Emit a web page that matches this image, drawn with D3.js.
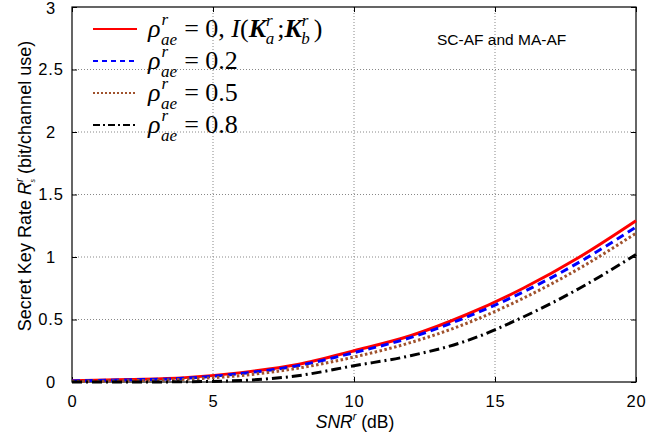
<!DOCTYPE html>
<html>
<head>
<meta charset="utf-8">
<script src="https://cdn.jsdelivr.net/npm/d3@7"></script>
<style>
  body { margin: 0; background: #fff; }
</style>
</head>
<body>
<svg id="chart" width="670" height="442"></svg>
<script>
// SNR in dB
var snr = [0, 2, 4, 6, 8, 10, 12, 14, 16, 18, 20];
var rho0 = [0.01, 0.02, 0.035, 0.075, 0.14, 0.25, 0.37, 0.54, 0.75, 1.0, 1.29];
var rho02 = [0.008, 0.017, 0.03, 0.068, 0.13, 0.235, 0.355, 0.52, 0.72, 0.96, 1.24];
var rho05 = [0.004, 0.01, 0.022, 0.052, 0.11, 0.2, 0.315, 0.47, 0.67, 0.91, 1.19];
var rho08 = [0, 0, 0.002, 0.012, 0.05, 0.13, 0.21, 0.33, 0.52, 0.75, 1.02];
var xTicks = [0, 5, 10, 15, 20];
var yTicks = [0, 0.5, 1, 1.5, 2, 2.5, 3];
var rhoLabels = ["0", "0.2", "0.5", "0.8"];

var SANS = "Arial, 'Liberation Sans', sans-serif";
var SERIF = "'Liberation Serif', 'Times New Roman', serif";

var series = [
  {v: rho0, color: "#ff0000", dash: null, legDash: null},
  {v: rho02, color: "#0000ff", dash: "8,5", legDash: "5,4"},
  {v: rho05, color: "#a0522d", dash: "2.5,2.5", legDash: "2,2"},
  {v: rho08, color: "#000000", dash: "10,4,2,4", legDash: "7,3,2,3"}
];

var svg = d3.select("#chart");
var L = 72, R = 636, T = 7, B = 382;

var x = d3.scaleLinear().domain([0, 20]).range([L, R]);
var y = d3.scaleLinear().domain([0, 3]).range([B, T]);

// grid
svg.append("g").selectAll("line").data(xTicks.slice(1, -1)).enter().append("line")
  .attr("x1", d => x(d)).attr("x2", d => x(d)).attr("y1", T).attr("y2", B)
  .attr("stroke", "#888").attr("stroke-width", 1).attr("stroke-dasharray", "1,2");
svg.append("g").selectAll("line").data(yTicks.slice(1, -1)).enter().append("line")
  .attr("y1", d => y(d)).attr("y2", d => y(d)).attr("x1", L).attr("x2", R)
  .attr("stroke", "#888").attr("stroke-width", 1).attr("stroke-dasharray", "1,2");

// axes
var xAxis = svg.append("g").attr("transform", "translate(0," + B + ")")
  .call(d3.axisBottom(x).tickValues(xTicks).tickSizeInner(-5).tickSizeOuter(0).tickPadding(13).tickFormat(d3.format("")));
var xAxisTop = svg.append("g").attr("transform", "translate(0," + T + ")")
  .call(d3.axisTop(x).tickValues(xTicks).tickSizeInner(-5).tickSizeOuter(0).tickFormat(""));
var yAxis = svg.append("g").attr("transform", "translate(" + L + ",0)")
  .call(d3.axisLeft(y).tickValues(yTicks).tickSizeInner(-5).tickSizeOuter(0).tickPadding(13).tickFormat(d3.format("")));
var yAxisR = svg.append("g").attr("transform", "translate(" + R + ",0)")
  .call(d3.axisRight(y).tickValues(yTicks).tickSizeInner(-5).tickSizeOuter(0).tickFormat(""));
[xAxis, xAxisTop, yAxis, yAxisR].forEach(g => {
  g.select(".domain").remove();
  g.selectAll("line").attr("stroke", "#000");
  g.selectAll("text").attr("fill", "#000")
    .style("font-family", SANS).style("font-size", "16.5px").style("letter-spacing", "0.8px");
});
yAxis.selectAll("text").attr("text-anchor", "middle").attr("x", 51 - L);
// top label sits right at the edge, push it down a hair
yAxis.selectAll(".tick").filter(d => d == 3).select("text").attr("dy", "0.42em");

svg.append("rect").attr("x", L).attr("y", T).attr("width", R - L).attr("height", B - T)
  .attr("fill", "none").attr("stroke", "#000").attr("stroke-width", 1.2);

// curves
var line = d3.line().x((d, i) => x(snr[i])).y(d => y(d)).curve(d3.curveMonotoneX);
svg.append("g").selectAll("path").data(series).enter().append("path")
  .attr("d", d => line(d.v))
  .attr("fill", "none")
  .attr("stroke", d => d.color)
  .attr("stroke-width", 3)
  .attr("stroke-dasharray", d => d.dash);

// legend
var leg = svg.append("g");
series.forEach(function(s, i) {
  var yy = 29 + i * 32;
  leg.append("line").attr("x1", 93).attr("x2", 137).attr("y1", yy).attr("y2", yy)
    .attr("stroke", s.color).attr("stroke-width", 2)
    .attr("stroke-dasharray", s.legDash);
  var t = leg.append("text").attr("x", 148).attr("y", yy + 8)
    .style("font-family", SERIF).style("font-size", "26px").attr("fill", "#000");
  t.append("tspan").style("font-style", "italic").text("ρ");
  t.append("tspan").style("font-style", "italic").style("font-size", "17px").attr("dy", -12).attr("dx", 1).text("r");
  t.append("tspan").style("font-style", "italic").style("font-size", "17px").attr("dy", 20).attr("dx", -7).text("ae");
  t.append("tspan").attr("dy", -8).attr("dx", 7).text("= " + rhoLabels[i]);
  if (i == 0) {
    t.append("tspan").text(", ");
    t.append("tspan").style("font-style", "italic").text("I");
    t.append("tspan").text("(");
    t.append("tspan").style("font-style", "italic").style("font-weight", "bold").text("K");
    t.append("tspan").style("font-style", "italic").style("font-size", "17px").attr("dy", -11).text("r");
    t.append("tspan").style("font-style", "italic").style("font-size", "17px").attr("dy", 18).attr("dx", -7).text("a");
    t.append("tspan").attr("dy", -7).attr("dx", 3).text(";");
    t.append("tspan").style("font-style", "italic").style("font-weight", "bold").text("K");
    t.append("tspan").style("font-style", "italic").style("font-size", "17px").attr("dy", -11).text("r");
    t.append("tspan").style("font-style", "italic").style("font-size", "17px").attr("dy", 18).attr("dx", -7).text("b");
    t.append("tspan").attr("dy", -7).attr("dx", 4).text(")");
  }
});

svg.append("text").attr("x", 437).attr("y", 45).style("font-family", SANS).style("font-size", "15.5px").text("SC-AF and MA-AF");

// axis labels
var xl = svg.append("text").attr("x", 355).attr("y", 428).attr("text-anchor", "middle")
  .style("font-family", SANS).style("font-size", "17.5px");
xl.append("tspan").style("font-style", "italic").text("SNR");
xl.append("tspan").style("font-style", "italic").style("font-size", "11px").attr("dy", -8).text("r");
xl.append("tspan").attr("dy", 8).text(" (dB)");

var yl = svg.append("text").attr("transform", "translate(31,186) rotate(-90)")
  .attr("text-anchor", "middle").style("font-family", SANS).style("font-size", "18px");
yl.append("tspan").text("Secret Key Rate ");
yl.append("tspan").style("font-style", "italic").text("R");
yl.append("tspan").style("font-style", "italic").style("font-size", "11px").attr("dy", -8).text("r");
yl.append("tspan").style("font-style", "italic").style("font-size", "7px").attr("dy", 12).attr("dx", -4).text("s");
yl.append("tspan").attr("dy", -4).text(" (bit/channel use)");
</script>
</body>
</html>
